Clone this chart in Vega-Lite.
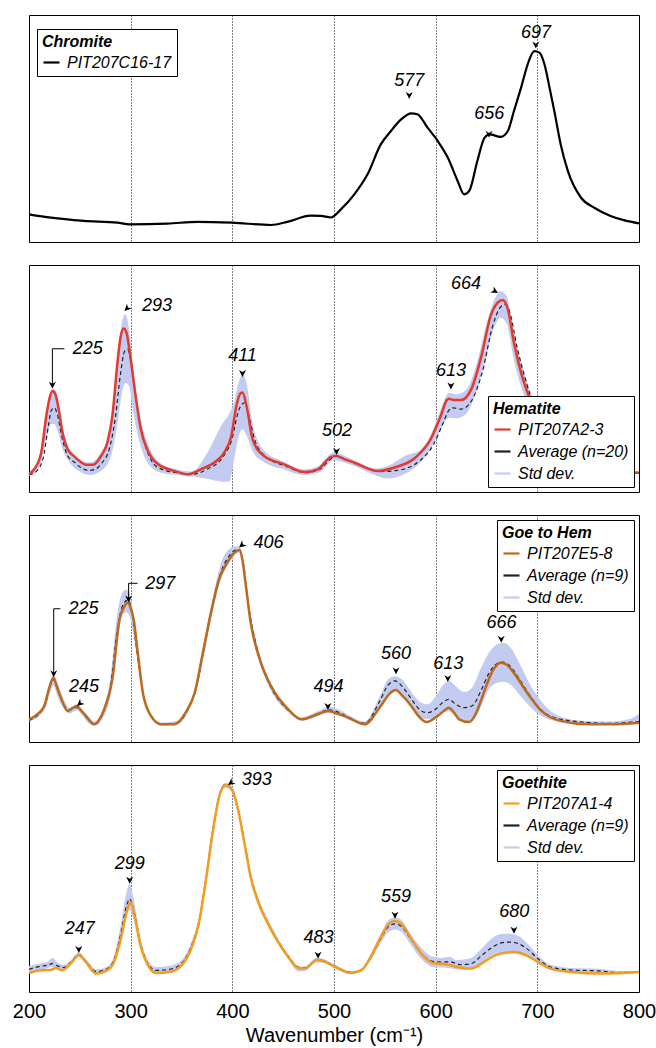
{
  "$schema": "https://vega.github.io/schema/vega-lite/v6.json",
  "padding": {"left": 11, "top": 14, "right": 5, "bottom": 3},
  "spacing": 23,
  "bounds": "flush",
  "config": {
    "font": "Liberation Sans",
    "view": {"stroke": "black", "strokeWidth": 1},
    "legend": {"titleFont": "Liberation Sans", "titleFontSize": 16, "titleFontWeight": "bold", "titleFontStyle": "italic", "titleColor": "black", "titlePadding": 3, "labelFont": "Liberation Sans", "labelFontSize": 16, "labelFontStyle": "italic", "labelColor": "black", "labelOffset": 6, "symbolSize": 256, "symbolType": "stroke", "symbolStrokeWidth": 2.2, "rowPadding": 4, "padding": 5, "strokeColor": "black", "fillColor": "white", "labelLimit": 300, "symbolOpacity": 1}
  },
  "resolve": {"scale": {"color": "independent", "strokeDash": "independent", "x": "independent", "y": "independent"}, "legend": {"color": "independent", "strokeDash": "independent"}, "axis": {"x": "independent"}},
  "datasets": {
    "ticks10": [{"w":200},{"w":210},{"w":220},{"w":230},{"w":240},{"w":250},{"w":260},{"w":270},{"w":280},{"w":290},{"w":300},{"w":310},{"w":320},{"w":330},{"w":340},{"w":350},{"w":360},{"w":370},{"w":380},{"w":390},{"w":400},{"w":410},{"w":420},{"w":430},{"w":440},{"w":450},{"w":460},{"w":470},{"w":480},{"w":490},{"w":500},{"w":510},{"w":520},{"w":530},{"w":540},{"w":550},{"w":560},{"w":570},{"w":580},{"w":590},{"w":600},{"w":610},{"w":620},{"w":630},{"w":640},{"w":650},{"w":660},{"w":670},{"w":680},{"w":690},{"w":700},{"w":710},{"w":720},{"w":730},{"w":740},{"w":750},{"w":760},{"w":770},{"w":780},{"w":790},{"w":800}],
    "ticks100": [{"w":200},{"w":300},{"w":400},{"w":500},{"w":600},{"w":700},{"w":800}],
    "c1": [{"w":200,"v":0.122},{"w":221.6,"v":0.107},{"w":254,"v":0.093},{"w":287,"v":0.085},{"w":299,"v":0.078},{"w":336,"v":0.081},{"w":366,"v":0.089},{"w":400,"v":0.085},{"w":438,"v":0.075},{"w":455,"v":0.090},{"w":477,"v":0.116},{"w":487,"v":0.115},{"w":497,"v":0.108},{"w":507,"v":0.145},{"w":520,"v":0.210},{"w":533,"v":0.298},{"w":546,"v":0.430},{"w":556,"v":0.489},{"w":566,"v":0.540},{"w":576,"v":0.567},{"w":582,"v":0.563},{"w":592,"v":0.504},{"w":602,"v":0.445},{"w":612,"v":0.371},{"w":621.6,"v":0.269},{"w":628,"v":0.210},{"w":633,"v":0.225},{"w":641,"v":0.357},{"w":648,"v":0.459},{"w":653,"v":0.474},{"w":664,"v":0.463},{"w":671,"v":0.489},{"w":677,"v":0.577},{"w":684,"v":0.680},{"w":690.5,"v":0.783},{"w":697,"v":0.841},{"w":702,"v":0.834},{"w":707,"v":0.783},{"w":712,"v":0.680},{"w":716.7,"v":0.577},{"w":723,"v":0.430},{"w":730,"v":0.313},{"w":743,"v":0.195},{"w":756,"v":0.151},{"w":772,"v":0.115},{"w":786,"v":0.095},{"w":800,"v":0.082}],
    "h_s": [{"w":200,"v":0.078},{"w":205,"v":0.100},{"w":212,"v":0.173},{"w":217,"v":0.335},{"w":220,"v":0.410},{"w":223,"v":0.445},{"w":226,"v":0.430},{"w":229,"v":0.370},{"w":233,"v":0.261},{"w":238,"v":0.188},{"w":244,"v":0.159},{"w":250,"v":0.135},{"w":256,"v":0.120},{"w":263,"v":0.120},{"w":271,"v":0.159},{"w":277,"v":0.217},{"w":282,"v":0.335},{"w":287,"v":0.570},{"w":290,"v":0.680},{"w":293,"v":0.720},{"w":296,"v":0.700},{"w":299,"v":0.620},{"w":304,"v":0.452},{"w":310,"v":0.276},{"w":317,"v":0.181},{"w":327,"v":0.122},{"w":343,"v":0.093},{"w":356,"v":0.078},{"w":369,"v":0.100},{"w":382,"v":0.129},{"w":392,"v":0.173},{"w":399,"v":0.247},{"w":404,"v":0.379},{"w":408,"v":0.435},{"w":410,"v":0.438},{"w":414,"v":0.379},{"w":420,"v":0.232},{"w":431,"v":0.159},{"w":451,"v":0.122},{"w":471,"v":0.088},{"w":484,"v":0.100},{"w":497,"v":0.155},{"w":502,"v":0.159},{"w":510,"v":0.145},{"w":520,"v":0.129},{"w":543,"v":0.093},{"w":559,"v":0.107},{"w":582,"v":0.159},{"w":595,"v":0.232},{"w":605,"v":0.335},{"w":611,"v":0.405},{"w":613,"v":0.411},{"w":618,"v":0.405},{"w":625,"v":0.405},{"w":635,"v":0.452},{"w":645,"v":0.599},{"w":654,"v":0.775},{"w":661,"v":0.834},{"w":666,"v":0.846},{"w":671,"v":0.805},{"w":677,"v":0.658},{"w":684,"v":0.526},{"w":694,"v":0.393},{"w":705,"v":0.260},{"w":715,"v":0.170},{"w":730,"v":0.115},{"w":750,"v":0.095},{"w":780,"v":0.087},{"w":800,"v":0.085}],
    "h_a": [{"w":200,"v":0.075},{"w":207,"v":0.090},{"w":214,"v":0.150},{"w":219,"v":0.290},{"w":222,"v":0.360},{"w":225,"v":0.371},{"w":228,"v":0.340},{"w":232,"v":0.250},{"w":238,"v":0.160},{"w":245,"v":0.130},{"w":252,"v":0.105},{"w":258,"v":0.095},{"w":265,"v":0.100},{"w":272,"v":0.130},{"w":279,"v":0.190},{"w":285,"v":0.330},{"w":290,"v":0.520},{"w":294,"v":0.620},{"w":297,"v":0.629},{"w":300,"v":0.580},{"w":305,"v":0.420},{"w":311,"v":0.260},{"w":318,"v":0.160},{"w":328,"v":0.105},{"w":345,"v":0.085},{"w":360,"v":0.078},{"w":375,"v":0.100},{"w":390,"v":0.150},{"w":400,"v":0.240},{"w":405,"v":0.340},{"w":409,"v":0.385},{"w":412,"v":0.393},{"w":416,"v":0.340},{"w":422,"v":0.230},{"w":433,"v":0.155},{"w":452,"v":0.115},{"w":472,"v":0.085},{"w":486,"v":0.100},{"w":498,"v":0.150},{"w":503,"v":0.160},{"w":512,"v":0.142},{"w":525,"v":0.120},{"w":545,"v":0.090},{"w":562,"v":0.095},{"w":585,"v":0.140},{"w":598,"v":0.210},{"w":607,"v":0.300},{"w":613,"v":0.360},{"w":617,"v":0.371},{"w":625,"v":0.365},{"w":635,"v":0.400},{"w":646,"v":0.530},{"w":656,"v":0.730},{"w":663,"v":0.810},{"w":668,"v":0.827},{"w":673,"v":0.790},{"w":680,"v":0.640},{"w":688,"v":0.500},{"w":698,"v":0.360},{"w":710,"v":0.230},{"w":720,"v":0.160},{"w":735,"v":0.110},{"w":760,"v":0.092},{"w":800,"v":0.085}],
    "h_b": [{"w":200,"lo":0.070,"hi":0.085},{"w":210,"lo":0.110,"hi":0.150},{"w":217,"lo":0.230,"hi":0.340},{"w":222,"lo":0.300,"hi":0.440},{"w":225,"lo":0.300,"hi":0.455},{"w":228,"lo":0.270,"hi":0.420},{"w":233,"lo":0.190,"hi":0.290},{"w":240,"lo":0.130,"hi":0.190},{"w":250,"lo":0.090,"hi":0.140},{"w":260,"lo":0.075,"hi":0.130},{"w":270,"lo":0.090,"hi":0.170},{"w":280,"lo":0.150,"hi":0.280},{"w":287,"lo":0.300,"hi":0.580},{"w":292,"lo":0.450,"hi":0.760},{"w":295,"lo":0.480,"hi":0.783},{"w":298,"lo":0.470,"hi":0.730},{"w":303,"lo":0.340,"hi":0.520},{"w":310,"lo":0.200,"hi":0.320},{"w":318,"lo":0.120,"hi":0.200},{"w":330,"lo":0.085,"hi":0.125},{"w":345,"lo":0.075,"hi":0.100},{"w":360,"lo":0.068,"hi":0.090},{"w":375,"lo":0.058,"hi":0.170},{"w":390,"lo":0.045,"hi":0.300},{"w":397,"lo":0.045,"hi":0.345},{"w":402,"lo":0.150,"hi":0.400},{"w":406,"lo":0.240,"hi":0.480},{"w":410,"lo":0.276,"hi":0.518},{"w":414,"lo":0.250,"hi":0.480},{"w":420,"lo":0.180,"hi":0.300},{"w":432,"lo":0.130,"hi":0.180},{"w":450,"lo":0.100,"hi":0.135},{"w":470,"lo":0.075,"hi":0.100},{"w":485,"lo":0.085,"hi":0.115},{"w":500,"lo":0.140,"hi":0.175},{"w":510,"lo":0.130,"hi":0.160},{"w":525,"lo":0.105,"hi":0.130},{"w":540,"lo":0.075,"hi":0.105},{"w":553,"lo":0.059,"hi":0.115},{"w":570,"lo":0.080,"hi":0.160},{"w":585,"lo":0.130,"hi":0.185},{"w":595,"lo":0.190,"hi":0.250},{"w":603,"lo":0.260,"hi":0.340},{"w":610,"lo":0.315,"hi":0.420},{"w":613,"lo":0.327,"hi":0.437},{"w":620,"lo":0.325,"hi":0.430},{"w":630,"lo":0.345,"hi":0.450},{"w":640,"lo":0.440,"hi":0.560},{"w":650,"lo":0.600,"hi":0.740},{"w":658,"lo":0.730,"hi":0.850},{"w":664,"lo":0.768,"hi":0.885},{"w":670,"lo":0.740,"hi":0.860},{"w":677,"lo":0.580,"hi":0.700},{"w":685,"lo":0.450,"hi":0.560},{"w":695,"lo":0.330,"hi":0.420},{"w":705,"lo":0.220,"hi":0.290},{"w":720,"lo":0.140,"hi":0.180},{"w":740,"lo":0.100,"hi":0.120},{"w":770,"lo":0.085,"hi":0.095},{"w":800,"lo":0.080,"hi":0.090}],
    "g_s": [{"w":200,"v":0.100},{"w":208,"v":0.122},{"w":215,"v":0.159},{"w":220,"v":0.240},{"w":224,"v":0.283},{"w":227,"v":0.250},{"w":231,"v":0.200},{"w":238,"v":0.137},{"w":243,"v":0.150},{"w":247,"v":0.159},{"w":251,"v":0.140},{"w":256,"v":0.115},{"w":264,"v":0.078},{"w":270,"v":0.105},{"w":274,"v":0.144},{"w":282,"v":0.276},{"w":289,"v":0.540},{"w":294,"v":0.599},{"w":297,"v":0.614},{"w":300,"v":0.590},{"w":303,"v":0.540},{"w":307,"v":0.393},{"w":312,"v":0.217},{"w":320,"v":0.115},{"w":330,"v":0.078},{"w":343,"v":0.078},{"w":354,"v":0.129},{"w":363,"v":0.217},{"w":371,"v":0.393},{"w":379,"v":0.570},{"w":387,"v":0.717},{"w":395,"v":0.790},{"w":402,"v":0.834},{"w":407,"v":0.846},{"w":410,"v":0.800},{"w":413,"v":0.700},{"w":418,"v":0.526},{"w":427,"v":0.364},{"w":438,"v":0.247},{"w":455,"v":0.144},{"w":468,"v":0.100},{"w":484,"v":0.122},{"w":494,"v":0.137},{"w":500,"v":0.130},{"w":514,"v":0.107},{"w":530,"v":0.078},{"w":546,"v":0.159},{"w":555,"v":0.215},{"w":561,"v":0.229},{"w":567,"v":0.205},{"w":576,"v":0.159},{"w":583,"v":0.115},{"w":591,"v":0.088},{"w":602,"v":0.115},{"w":609,"v":0.140},{"w":613,"v":0.151},{"w":618,"v":0.130},{"w":623,"v":0.100},{"w":633,"v":0.088},{"w":640,"v":0.130},{"w":645,"v":0.188},{"w":650,"v":0.250},{"w":656,"v":0.313},{"w":664,"v":0.349},{"w":670,"v":0.340},{"w":676,"v":0.310},{"w":690,"v":0.217},{"w":704,"v":0.137},{"w":723,"v":0.093},{"w":750,"v":0.078},{"w":772,"v":0.078},{"w":800,"v":0.085}],
    "g_a": [{"w":200,"v":0.095},{"w":210,"v":0.125},{"w":216,"v":0.165},{"w":221,"v":0.250},{"w":224,"v":0.275},{"w":228,"v":0.230},{"w":233,"v":0.175},{"w":240,"v":0.140},{"w":247,"v":0.152},{"w":252,"v":0.135},{"w":258,"v":0.100},{"w":265,"v":0.080},{"w":272,"v":0.120},{"w":280,"v":0.240},{"w":287,"v":0.500},{"w":293,"v":0.610},{"w":297,"v":0.625},{"w":301,"v":0.580},{"w":305,"v":0.440},{"w":311,"v":0.240},{"w":320,"v":0.115},{"w":330,"v":0.078},{"w":345,"v":0.082},{"w":356,"v":0.140},{"w":365,"v":0.250},{"w":373,"v":0.430},{"w":381,"v":0.610},{"w":389,"v":0.750},{"w":397,"v":0.820},{"w":403,"v":0.845},{"w":407,"v":0.848},{"w":411,"v":0.780},{"w":416,"v":0.600},{"w":425,"v":0.400},{"w":437,"v":0.250},{"w":455,"v":0.140},{"w":468,"v":0.100},{"w":484,"v":0.125},{"w":495,"v":0.142},{"w":505,"v":0.130},{"w":516,"v":0.105},{"w":530,"v":0.082},{"w":545,"v":0.180},{"w":553,"v":0.250},{"w":560,"v":0.269},{"w":567,"v":0.245},{"w":576,"v":0.190},{"w":585,"v":0.140},{"w":592,"v":0.129},{"w":600,"v":0.145},{"w":607,"v":0.175},{"w":613,"v":0.188},{"w":620,"v":0.165},{"w":628,"v":0.151},{"w":636,"v":0.160},{"w":645,"v":0.230},{"w":652,"v":0.300},{"w":660,"v":0.345},{"w":666,"v":0.352},{"w":673,"v":0.335},{"w":682,"v":0.280},{"w":692,"v":0.210},{"w":702,"v":0.150},{"w":715,"v":0.110},{"w":740,"v":0.090},{"w":770,"v":0.082},{"w":800,"v":0.090}],
    "g_b": [{"w":200,"lo":0.090,"hi":0.105},{"w":210,"lo":0.115,"hi":0.135},{"w":216,"lo":0.150,"hi":0.180},{"w":221,"lo":0.220,"hi":0.270},{"w":224,"lo":0.250,"hi":0.295},{"w":228,"lo":0.200,"hi":0.260},{"w":234,"lo":0.150,"hi":0.190},{"w":240,"lo":0.125,"hi":0.150},{"w":247,"lo":0.140,"hi":0.165},{"w":252,"lo":0.120,"hi":0.145},{"w":258,"lo":0.085,"hi":0.115},{"w":265,"lo":0.072,"hi":0.090},{"w":272,"lo":0.100,"hi":0.140},{"w":280,"lo":0.200,"hi":0.280},{"w":287,"lo":0.440,"hi":0.570},{"w":292,"lo":0.560,"hi":0.660},{"w":296,"lo":0.570,"hi":0.672},{"w":300,"lo":0.540,"hi":0.640},{"w":304,"lo":0.440,"hi":0.520},{"w":311,"lo":0.230,"hi":0.260},{"w":320,"lo":0.105,"hi":0.125},{"w":330,"lo":0.072,"hi":0.085},{"w":345,"lo":0.075,"hi":0.092},{"w":356,"lo":0.130,"hi":0.150},{"w":365,"lo":0.230,"hi":0.270},{"w":373,"lo":0.400,"hi":0.460},{"w":381,"lo":0.580,"hi":0.640},{"w":389,"lo":0.720,"hi":0.790},{"w":397,"lo":0.790,"hi":0.850},{"w":403,"lo":0.825,"hi":0.862},{"w":407,"lo":0.835,"hi":0.858},{"w":411,"lo":0.760,"hi":0.800},{"w":416,"lo":0.580,"hi":0.620},{"w":425,"lo":0.380,"hi":0.420},{"w":437,"lo":0.235,"hi":0.265},{"w":455,"lo":0.132,"hi":0.150},{"w":468,"lo":0.094,"hi":0.108},{"w":484,"lo":0.115,"hi":0.135},{"w":495,"lo":0.130,"hi":0.155},{"w":505,"lo":0.120,"hi":0.142},{"w":516,"lo":0.098,"hi":0.115},{"w":530,"lo":0.075,"hi":0.090},{"w":545,"lo":0.160,"hi":0.200},{"w":553,"lo":0.215,"hi":0.275},{"w":560,"lo":0.225,"hi":0.290},{"w":567,"lo":0.210,"hi":0.275},{"w":576,"lo":0.160,"hi":0.220},{"w":585,"lo":0.110,"hi":0.175},{"w":592,"lo":0.100,"hi":0.166},{"w":600,"lo":0.110,"hi":0.200},{"w":607,"lo":0.128,"hi":0.250},{"w":613,"lo":0.135,"hi":0.269},{"w":620,"lo":0.110,"hi":0.245},{"w":628,"lo":0.088,"hi":0.220},{"w":636,"lo":0.092,"hi":0.240},{"w":645,"lo":0.160,"hi":0.330},{"w":652,"lo":0.230,"hi":0.390},{"w":660,"lo":0.260,"hi":0.430},{"w":666,"lo":0.265,"hi":0.437},{"w":673,"lo":0.255,"hi":0.420},{"w":682,"lo":0.210,"hi":0.350},{"w":692,"lo":0.160,"hi":0.260},{"w":702,"lo":0.120,"hi":0.190},{"w":715,"lo":0.095,"hi":0.130},{"w":740,"lo":0.078,"hi":0.095},{"w":770,"lo":0.075,"hi":0.090},{"w":790,"lo":0.080,"hi":0.100},{"w":800,"lo":0.085,"hi":0.125}],
    "o_s": [{"w":200,"v":0.084},{"w":212,"v":0.096},{"w":222,"v":0.098},{"w":226,"v":0.106},{"w":233,"v":0.096},{"w":241,"v":0.125},{"w":249,"v":0.162},{"w":256,"v":0.132},{"w":266,"v":0.081},{"w":276,"v":0.093},{"w":283,"v":0.125},{"w":290,"v":0.228},{"w":297,"v":0.367},{"w":300,"v":0.396},{"w":304,"v":0.330},{"w":310,"v":0.198},{"w":317,"v":0.117},{"w":325,"v":0.084},{"w":338,"v":0.088},{"w":350,"v":0.117},{"w":359,"v":0.184},{"w":367,"v":0.301},{"w":374,"v":0.492},{"w":381,"v":0.712},{"w":387,"v":0.859},{"w":393,"v":0.911},{"w":399,"v":0.896},{"w":405,"v":0.815},{"w":412,"v":0.653},{"w":418,"v":0.507},{"w":426,"v":0.389},{"w":435,"v":0.301},{"w":445,"v":0.220},{"w":455,"v":0.154},{"w":465,"v":0.106},{"w":471,"v":0.103},{"w":483,"v":0.141},{"w":490,"v":0.135},{"w":500,"v":0.113},{"w":517,"v":0.084},{"w":527,"v":0.096},{"w":536,"v":0.154},{"w":546,"v":0.242},{"w":554,"v":0.301},{"w":560,"v":0.313},{"w":566,"v":0.301},{"w":576,"v":0.235},{"w":586,"v":0.169},{"w":597,"v":0.128},{"w":610,"v":0.122},{"w":625,"v":0.107},{"w":635,"v":0.103},{"w":645,"v":0.125},{"w":655,"v":0.154},{"w":664,"v":0.169},{"w":677,"v":0.176},{"w":689,"v":0.162},{"w":701,"v":0.132},{"w":713,"v":0.103},{"w":733,"v":0.088},{"w":763,"v":0.081},{"w":800,"v":0.088}],
    "o_a": [{"w":200,"v":0.100},{"w":210,"v":0.112},{"w":218,"v":0.118},{"w":223,"v":0.125},{"w":228,"v":0.115},{"w":234,"v":0.108},{"w":241,"v":0.130},{"w":249,"v":0.165},{"w":256,"v":0.135},{"w":266,"v":0.090},{"w":276,"v":0.100},{"w":283,"v":0.135},{"w":290,"v":0.250},{"w":296,"v":0.380},{"w":299,"v":0.410},{"w":303,"v":0.360},{"w":310,"v":0.210},{"w":317,"v":0.125},{"w":325,"v":0.095},{"w":338,"v":0.100},{"w":350,"v":0.125},{"w":359,"v":0.195},{"w":367,"v":0.310},{"w":374,"v":0.500},{"w":381,"v":0.720},{"w":387,"v":0.865},{"w":393,"v":0.913},{"w":399,"v":0.898},{"w":405,"v":0.820},{"w":412,"v":0.660},{"w":418,"v":0.515},{"w":426,"v":0.395},{"w":435,"v":0.305},{"w":445,"v":0.225},{"w":455,"v":0.158},{"w":465,"v":0.110},{"w":471,"v":0.106},{"w":483,"v":0.142},{"w":490,"v":0.137},{"w":500,"v":0.115},{"w":517,"v":0.087},{"w":527,"v":0.098},{"w":536,"v":0.150},{"w":546,"v":0.235},{"w":554,"v":0.290},{"w":560,"v":0.300},{"w":566,"v":0.290},{"w":576,"v":0.230},{"w":586,"v":0.170},{"w":597,"v":0.135},{"w":606,"v":0.132},{"w":614,"v":0.133},{"w":625,"v":0.120},{"w":635,"v":0.125},{"w":645,"v":0.160},{"w":655,"v":0.195},{"w":664,"v":0.215},{"w":672,"v":0.220},{"w":680,"v":0.215},{"w":690,"v":0.190},{"w":701,"v":0.145},{"w":713,"v":0.110},{"w":733,"v":0.097},{"w":760,"v":0.093},{"w":780,"v":0.086},{"w":800,"v":0.088}],
    "o_b": [{"w":200,"lo":0.085,"hi":0.115},{"w":210,"lo":0.095,"hi":0.125},{"w":218,"lo":0.105,"hi":0.132},{"w":223,"lo":0.110,"hi":0.150},{"w":228,"lo":0.100,"hi":0.130},{"w":234,"lo":0.095,"hi":0.120},{"w":241,"lo":0.120,"hi":0.140},{"w":249,"lo":0.155,"hi":0.175},{"w":256,"lo":0.125,"hi":0.145},{"w":266,"lo":0.080,"hi":0.100},{"w":276,"lo":0.090,"hi":0.110},{"w":283,"lo":0.120,"hi":0.150},{"w":290,"lo":0.220,"hi":0.290},{"w":296,"lo":0.340,"hi":0.440},{"w":299,"lo":0.360,"hi":0.477},{"w":303,"lo":0.320,"hi":0.410},{"w":310,"lo":0.190,"hi":0.230},{"w":317,"lo":0.110,"hi":0.140},{"w":325,"lo":0.080,"hi":0.110},{"w":338,"lo":0.085,"hi":0.115},{"w":350,"lo":0.110,"hi":0.140},{"w":359,"lo":0.178,"hi":0.212},{"w":367,"lo":0.295,"hi":0.325},{"w":374,"lo":0.485,"hi":0.515},{"w":381,"lo":0.705,"hi":0.735},{"w":387,"lo":0.850,"hi":0.875},{"w":393,"lo":0.900,"hi":0.922},{"w":399,"lo":0.885,"hi":0.910},{"w":405,"lo":0.805,"hi":0.835},{"w":412,"lo":0.645,"hi":0.675},{"w":418,"lo":0.500,"hi":0.530},{"w":426,"lo":0.382,"hi":0.410},{"w":435,"lo":0.295,"hi":0.320},{"w":445,"lo":0.215,"hi":0.235},{"w":455,"lo":0.145,"hi":0.165},{"w":465,"lo":0.090,"hi":0.112},{"w":471,"lo":0.092,"hi":0.112},{"w":483,"lo":0.130,"hi":0.150},{"w":490,"lo":0.128,"hi":0.145},{"w":500,"lo":0.105,"hi":0.122},{"w":517,"lo":0.080,"hi":0.092},{"w":527,"lo":0.090,"hi":0.104},{"w":536,"lo":0.140,"hi":0.165},{"w":546,"lo":0.215,"hi":0.255},{"w":554,"lo":0.265,"hi":0.318},{"w":560,"lo":0.275,"hi":0.330},{"w":566,"lo":0.265,"hi":0.318},{"w":576,"lo":0.205,"hi":0.250},{"w":586,"lo":0.145,"hi":0.195},{"w":597,"lo":0.110,"hi":0.155},{"w":606,"lo":0.108,"hi":0.150},{"w":614,"lo":0.105,"hi":0.155},{"w":620,"lo":0.100,"hi":0.140},{"w":625,"lo":0.098,"hi":0.142},{"w":635,"lo":0.100,"hi":0.150},{"w":645,"lo":0.130,"hi":0.190},{"w":655,"lo":0.160,"hi":0.235},{"w":664,"lo":0.172,"hi":0.255},{"w":672,"lo":0.175,"hi":0.257},{"w":680,"lo":0.170,"hi":0.250},{"w":690,"lo":0.155,"hi":0.215},{"w":701,"lo":0.125,"hi":0.160},{"w":713,"lo":0.098,"hi":0.120},{"w":733,"lo":0.086,"hi":0.106},{"w":760,"lo":0.082,"hi":0.102},{"w":780,"lo":0.080,"hi":0.092},{"w":800,"lo":0.085,"hi":0.092}]
  },
  "vconcat": [
    {
      "width": 610, "height": 227,
      "encoding": {
        "x": {"field": "w", "type": "quantitative", "scale": {"domain": [200, 800], "nice": false, "zero": false},
          "axis": {"title": null, "values": [300, 400, 500, 600, 700], "labels": false, "domain": false, "ticks": false, "grid": true, "gridColor": "black", "gridDash": [1, 2], "gridWidth": 1, "gridOpacity": 1}},
        "y": {"field": "v", "type": "quantitative", "scale": {"domain": [0, 1], "nice": false, "zero": false}, "axis": null}
      },
      "layer": [
        {"data": {"name": "ticks10"}, "mark": {"type": "rule", "color": "black", "strokeWidth": 1},
          "encoding": {"y": {"datum": 1, "type": "quantitative"}, "y2": {"datum": 0.982}}},
        {"data": {"name": "c1"}, "mark": {"type": "line", "interpolate": "monotone", "strokeWidth": 2.2},
          "encoding": {"color": {"datum": "PIT207C16-17", "scale": {"domain": ["PIT207C16-17"], "range": ["black"]},
            "legend": {"title": "Chromite", "orient": "none", "legendX": 8, "legendY": 14, "symbolType": "stroke", "symbolStrokeWidth": 2.2}}}},
        {"data": {"values": [{"t": "697", "w": 698.6, "v": 0.921}, {"t": "577", "w": 574, "v": 0.711}, {"t": "656", "w": 652.7, "v": 0.565}]},
          "mark": {"type": "text", "fontSize": 18, "fontStyle": "italic", "font": "Liberation Sans", "color": "black", "align": "center", "baseline": "middle"},
          "encoding": {"text": {"field": "t"}}},
        {"data": {"values": [{"w": 698.5, "v": 0.852}, {"w": 574, "v": 0.63}, {"w": 652.5, "v": 0.459}]},
          "mark": {"type": "point", "shape": "M0,0L-1,-2L0,-1.4L1,-2Z", "size": 49, "filled": true, "color": "black", "opacity": 1, "strokeWidth": 0}}
      ]
    },
    {
      "width": 610, "height": 227,
      "encoding": {
        "x": {"field": "w", "type": "quantitative", "scale": {"domain": [200, 800], "nice": false, "zero": false},
          "axis": {"title": null, "values": [300, 400, 500, 600, 700], "labels": false, "domain": false, "ticks": false, "grid": true, "gridColor": "black", "gridDash": [1, 2], "gridWidth": 1, "gridOpacity": 1}},
        "y": {"field": "v", "type": "quantitative", "scale": {"domain": [0, 1], "nice": false, "zero": false}, "axis": null}
      },
      "layer": [
        {"data": {"name": "h_b"}, "mark": {"type": "area", "interpolate": "monotone", "opacity": 1},
          "encoding": {"y": {"field": "lo", "type": "quantitative", "scale": {"domain": [0, 1], "nice": false, "zero": false}, "axis": null}, "y2": {"field": "hi"},
            "color": {"datum": "Std dev.", "type": "nominal", "scale": {"domain": ["Average (n=20)", "PIT207A2-3", "Std dev."], "range": ["#222222", "#e23a2e", "#c3cbf0"]},
              "legend": {"title": "Hematite", "orient": "bottom-right", "offset": 5, "symbolType": "stroke", "values": ["PIT207A2-3", "Average (n=20)", "Std dev."]}},
            "strokeDash": {"datum": "Std dev.", "type": "nominal", "scale": {"domain": ["Average (n=20)", "PIT207A2-3", "Std dev."], "range": [[4, 3], [1, 0], [1, 0]]}}}},
        {"data": {"name": "h_a"}, "mark": {"type": "line", "interpolate": "monotone", "strokeWidth": 1.2, "strokeDash": [4, 3]},
          "encoding": {"color": {"datum": "Average (n=20)", "type": "nominal"}}},
        {"data": {"name": "h_s"}, "mark": {"type": "line", "interpolate": "monotone", "strokeWidth": 2.5},
          "encoding": {"color": {"datum": "PIT207A2-3", "type": "nominal"}}},
        {"data": {"values": [{"w": 223, "v": 0.631, "w2": 234.8, "v2": 0.631}, {"w": 223, "v": 0.631, "w2": 223, "v2": 0.47}]},
          "mark": {"type": "rule", "color": "black", "strokeWidth": 1},
          "encoding": {"x2": {"field": "w2"}, "y2": {"field": "v2"}}},
        {"data": {"values": [{"t": "664", "w": 629.8, "v": 0.915}, {"t": "613", "w": 615, "v": 0.533}, {"t": "502", "w": 503, "v": 0.269}, {"t": "411", "w": 410, "v": 0.599}, {"t": "293", "w": 326, "v": 0.819}, {"t": "225", "w": 257.7, "v": 0.630}]},
          "mark": {"type": "text", "fontSize": 18, "fontStyle": "italic", "font": "Liberation Sans", "color": "black", "align": "center", "baseline": "middle"},
          "encoding": {"text": {"field": "t"}}},
        {"data": {"values": [{"w": 615, "v": 0.452}, {"w": 502.5, "v": 0.163}, {"w": 410, "v": 0.507}, {"w": 223, "v": 0.455}]},
          "mark": {"type": "point", "shape": "M0,0L-1,-2L0,-1.4L1,-2Z", "size": 49, "filled": true, "color": "black", "opacity": 1, "strokeWidth": 0}},
        {"data": {"values": [{"w": 293.9, "v": 0.797}]},
          "mark": {"type": "point", "shape": "M0,0L-1,-2L0,-1.4L1,-2Z", "size": 49, "filled": true, "color": "black", "opacity": 1, "strokeWidth": 0, "angle": 45}},
        {"data": {"values": [{"w": 661.3, "v": 0.877}]},
          "mark": {"type": "point", "shape": "M0,0L-1,-2L0,-1.4L1,-2Z", "size": 49, "filled": true, "color": "black", "opacity": 1, "strokeWidth": 0, "angle": 300}}
      ]
    },
    {
      "width": 610, "height": 227,
      "encoding": {
        "x": {"field": "w", "type": "quantitative", "scale": {"domain": [200, 800], "nice": false, "zero": false},
          "axis": {"title": null, "values": [300, 400, 500, 600, 700], "labels": false, "domain": false, "ticks": false, "grid": true, "gridColor": "black", "gridDash": [1, 2], "gridWidth": 1, "gridOpacity": 1}},
        "y": {"field": "v", "type": "quantitative", "scale": {"domain": [0, 1], "nice": false, "zero": false}, "axis": null}
      },
      "layer": [
        {"data": {"name": "g_b"}, "mark": {"type": "area", "interpolate": "monotone", "opacity": 1},
          "encoding": {"y": {"field": "lo", "type": "quantitative", "scale": {"domain": [0, 1], "nice": false, "zero": false}, "axis": null}, "y2": {"field": "hi"},
            "color": {"datum": "Std dev.", "type": "nominal", "scale": {"domain": ["Average (n=9)", "PIT207E5-8", "Std dev."], "range": ["#222222", "#bb6a1f", "#c3cbf0"]},
              "legend": {"title": "Goe to Hem", "orient": "top-right", "offset": 5, "symbolType": "stroke", "values": ["PIT207E5-8", "Average (n=9)", "Std dev."]}},
            "strokeDash": {"datum": "Std dev.", "type": "nominal", "scale": {"domain": ["Average (n=9)", "PIT207E5-8", "Std dev."], "range": [[4, 3], [1, 0], [1, 0]]}}}},
        {"data": {"name": "g_a"}, "mark": {"type": "line", "interpolate": "monotone", "strokeWidth": 1.2, "strokeDash": [4, 3]},
          "encoding": {"color": {"datum": "Average (n=9)", "type": "nominal"}}},
        {"data": {"name": "g_s"}, "mark": {"type": "line", "interpolate": "monotone", "strokeWidth": 2.5},
          "encoding": {"color": {"datum": "PIT207E5-8", "type": "nominal"}}},
        {"data": {"values": [{"w": 298, "v": 0.699, "w2": 306.7, "v2": 0.699}, {"w": 298, "v": 0.699, "w2": 298, "v2": 0.63}, {"w": 224.3, "v": 0.587, "w2": 230.8, "v2": 0.587}, {"w": 224.3, "v": 0.587, "w2": 224.3, "v2": 0.3}]},
          "mark": {"type": "rule", "color": "black", "strokeWidth": 1},
          "encoding": {"x2": {"field": "w2"}, "y2": {"field": "v2"}}},
        {"data": {"values": [{"t": "406", "w": 435.5, "v": 0.878}, {"t": "297", "w": 329, "v": 0.695}, {"t": "225", "w": 253.6, "v": 0.587}, {"t": "245", "w": 254, "v": 0.242}, {"t": "494", "w": 494.6, "v": 0.242}, {"t": "560", "w": 561, "v": 0.388}, {"t": "613", "w": 612.3, "v": 0.342}, {"t": "666", "w": 664.7, "v": 0.526}]},
          "mark": {"type": "text", "fontSize": 18, "fontStyle": "italic", "font": "Liberation Sans", "color": "black", "align": "center", "baseline": "middle"},
          "encoding": {"text": {"field": "t"}}},
        {"data": {"values": [{"w": 298, "v": 0.614}, {"w": 224.3, "v": 0.285}, {"w": 494, "v": 0.141}, {"w": 561, "v": 0.298}, {"w": 612, "v": 0.264}, {"w": 664.5, "v": 0.437}]},
          "mark": {"type": "point", "shape": "M0,0L-1,-2L0,-1.4L1,-2Z", "size": 49, "filled": true, "color": "black", "opacity": 1, "strokeWidth": 0}},
        {"data": {"values": [{"w": 406.6, "v": 0.857}, {"w": 247.2, "v": 0.159}]},
          "mark": {"type": "point", "shape": "M0,0L-1,-2L0,-1.4L1,-2Z", "size": 49, "filled": true, "color": "black", "opacity": 1, "strokeWidth": 0, "angle": 50}}
      ]
    },
    {
      "width": 610, "height": 227,
      "encoding": {
        "x": {"field": "w", "type": "quantitative", "scale": {"domain": [200, 800], "nice": false, "zero": false},
          "axis": {"orient": "bottom", "title": "Wavenumber (cm⁻¹)", "values": [200, 300, 400, 500, 600, 700, 800],
            "labelFlush": false, "labelOverlap": false, "labelFontSize": 20, "labelColor": "black", "labelFont": "Liberation Sans", "labelPadding": 9,
            "domain": false, "ticks": false,
            "titleFontSize": 20, "titleFont": "Liberation Sans", "titleFontWeight": "normal", "titleColor": "black", "titlePadding": 4,
            "grid": true, "gridColor": "black", "gridDash": [1, 2], "gridWidth": 1, "gridOpacity": 1}},
        "y": {"field": "v", "type": "quantitative", "scale": {"domain": [0, 1], "nice": false, "zero": false}, "axis": null}
      },
      "layer": [
        {"data": {"name": "ticks10"}, "mark": {"type": "rule", "color": "black", "strokeWidth": 1},
          "encoding": {"y": {"datum": 0, "type": "quantitative"}, "y2": {"datum": -0.02}}},
        {"data": {"name": "ticks100"}, "mark": {"type": "rule", "color": "black", "strokeWidth": 1},
          "encoding": {"y": {"datum": 0, "type": "quantitative"}, "y2": {"datum": -0.031}}},
        {"data": {"name": "o_b"}, "mark": {"type": "area", "interpolate": "monotone", "opacity": 1},
          "encoding": {"y": {"field": "lo", "type": "quantitative", "scale": {"domain": [0, 1], "nice": false, "zero": false}, "axis": null}, "y2": {"field": "hi"},
            "color": {"datum": "Std dev.", "type": "nominal", "scale": {"domain": ["Average (n=9)", "PIT207A1-4", "Std dev."], "range": ["#222222", "#f39c1e", "#c3cbf0"]},
              "legend": {"title": "Goethite", "orient": "top-right", "offset": 5, "symbolType": "stroke", "values": ["PIT207A1-4", "Average (n=9)", "Std dev."]}},
            "strokeDash": {"datum": "Std dev.", "type": "nominal", "scale": {"domain": ["Average (n=9)", "PIT207A1-4", "Std dev."], "range": [[4, 3], [1, 0], [1, 0]]}}}},
        {"data": {"name": "o_a"}, "mark": {"type": "line", "interpolate": "monotone", "strokeWidth": 1.2, "strokeDash": [4, 3]},
          "encoding": {"color": {"datum": "Average (n=9)", "type": "nominal"}}},
        {"data": {"name": "o_s"}, "mark": {"type": "line", "interpolate": "monotone", "strokeWidth": 2.5},
          "encoding": {"color": {"datum": "PIT207A1-4", "type": "nominal"}}},
        {"data": {"values": [{"t": "393", "w": 424, "v": 0.933}, {"t": "299", "w": 299, "v": 0.565}, {"t": "247", "w": 250, "v": 0.279}, {"t": "483", "w": 484.7, "v": 0.239}, {"t": "559", "w": 561, "v": 0.419}, {"t": "680", "w": 677.4, "v": 0.352}]},
          "mark": {"type": "text", "fontSize": 18, "fontStyle": "italic", "font": "Liberation Sans", "color": "black", "align": "center", "baseline": "middle"},
          "encoding": {"text": {"field": "t"}}},
        {"data": {"values": [{"w": 299, "v": 0.477}, {"w": 249, "v": 0.172}, {"w": 484.3, "v": 0.147}, {"w": 560, "v": 0.323}, {"w": 677, "v": 0.257}]},
          "mark": {"type": "point", "shape": "M0,0L-1,-2L0,-1.4L1,-2Z", "size": 49, "filled": true, "color": "black", "opacity": 1, "strokeWidth": 0}},
        {"data": {"values": [{"w": 395.6, "v": 0.912}]},
          "mark": {"type": "point", "shape": "M0,0L-1,-2L0,-1.4L1,-2Z", "size": 49, "filled": true, "color": "black", "opacity": 1, "strokeWidth": 0, "angle": 55}}
      ]
    }
  ]
}
